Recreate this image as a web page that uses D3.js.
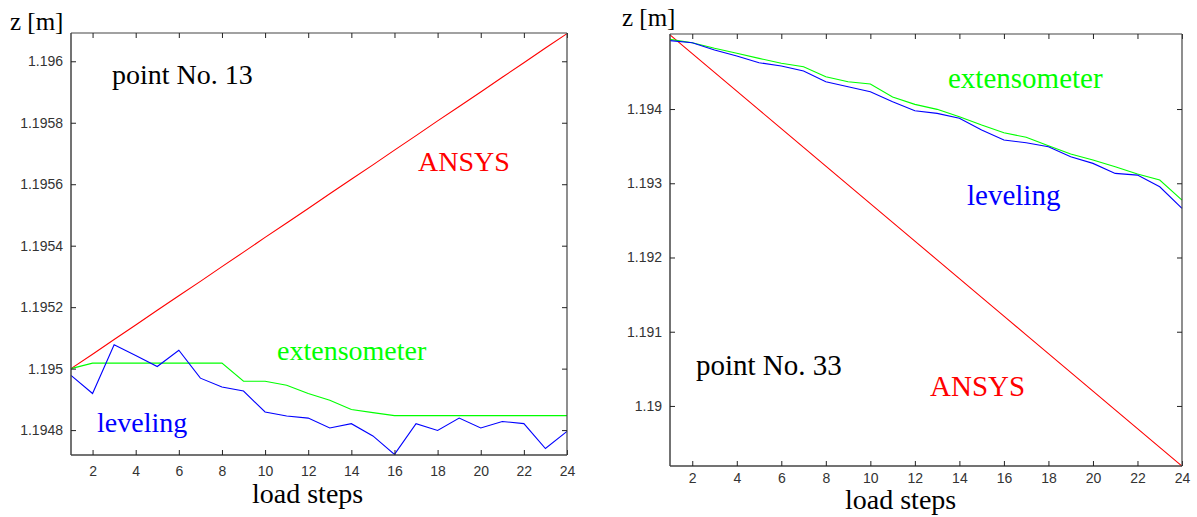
<!DOCTYPE html>
<html>
<head>
<meta charset="utf-8">
<script src="https://cdn.jsdelivr.net/npm/d3@7"></script>
<style>
  html, body { margin: 0; padding: 0; background: #fff; }
  svg { display: block; }
  .tick text { font-family: "Liberation Sans", Arial, sans-serif; font-size: 14px; fill: #333; }
  .lbl { font-family: "Liberation Serif", "Times New Roman", serif; }
</style>
</head>
<body>
<svg id="chart" width="1197" height="517"></svg>
<script>
// ---------- data ----------
const loadSteps = [1,2,3,4,5,6,7,8,9,10,11,12,13,14,15,16,17,18,19,20,21,22,23,24];
const xTickValues = [2,4,6,8,10,12,14,16,18,20,22,24];

// point No. 13
const p13Ansys = [1.195000,1.195047,1.195095,1.195142,1.195190,1.195237,1.195284,1.195332,1.195379,1.195427,1.195474,1.195521,
                  1.195569,1.195616,1.195663,1.195711,1.195758,1.195806,1.195853,1.195900,1.195948,1.195995,1.196043,1.196090];
const p13Extensometer = [1.195000,1.195018,1.195018,1.195018,1.195018,1.195018,1.195018,1.195018,1.194959,1.194959,1.194946,1.194919,
                         1.194897,1.194867,1.194857,1.194847,1.194847,1.194847,1.194847,1.194847,1.194847,1.194847,1.194847,1.194847];
const p13Leveling = [1.194978,1.194919,1.195078,1.195043,1.195007,1.195060,1.194969,1.194940,1.194927,1.194859,1.194846,1.194839,
                     1.194807,1.194821,1.194781,1.194721,1.194821,1.194799,1.194839,1.194807,1.194828,1.194821,1.194740,1.194796];
const p13YTicks = [1.1948,1.195,1.1952,1.1954,1.1956,1.1958,1.196];
const p13YTickLabels = ["1.1948","1.195","1.1952","1.1954","1.1956","1.1958","1.196"];
const p13YDomain = [1.194719, 1.196092];

// point No. 33
const p33Ansys = [1.195000,1.194747,1.194495,1.194242,1.193989,1.193737,1.193484,1.193231,1.192979,1.192726,1.192474,1.192221,
                  1.191968,1.191716,1.191463,1.191210,1.190958,1.190705,1.190452,1.190200,1.189947,1.189694,1.189442,1.189189];
const p33Extensometer = [1.194939,1.194894,1.194818,1.194751,1.194683,1.194616,1.194570,1.194435,1.194368,1.194337,1.194163,1.194063,
                         1.193996,1.193896,1.193784,1.193681,1.193619,1.193506,1.193394,1.193313,1.193222,1.193124,1.193043,1.192774];
const p33Leveling = [1.194922,1.194894,1.194795,1.194714,1.194624,1.194580,1.194512,1.194368,1.194301,1.194233,1.194098,1.193977,
                     1.193942,1.193875,1.193717,1.193582,1.193546,1.193492,1.193357,1.193268,1.193133,1.193110,1.192953,1.192662];
const p33YTicks = [1.19,1.191,1.192,1.193,1.194];
const p33YTickLabels = ["1.19","1.191","1.192","1.193","1.194"];
const p33YDomain = [1.189191, 1.195011];

const seriesNames = ["ANSYS","extensometer","leveling"];
const seriesColors = {ANSYS:"#ff0000", extensometer:"#00ff00", leveling:"#0000ff"};

// ---------- drawing ----------
const svg = d3.select("#chart");

function drawPanel(cfg) {
  const x = d3.scaleLinear().domain([1, 24]).range([cfg.left, cfg.right]);
  const y = d3.scaleLinear().domain(cfg.yDomain).range([cfg.bottom, cfg.top]);
  const g = svg.append("g");

  // lines
  const line = d3.line().x((d, i) => x(loadSteps[i])).y(d => y(d));
  cfg.series.forEach(s => {
    g.append("path").datum(s.values)
      .attr("fill", "none")
      .attr("stroke", seriesColors[s.name])
      .attr("stroke-width", 1.1)
      .attr("d", line);
  });

  const labelMap = new Map(cfg.yTicks.map((v, i) => [v, cfg.yTickLabels[i]]));
  // axes (ticks inward on all sides)
  const axB = g.append("g").attr("transform", `translate(0,${cfg.bottom})`)
    .call(d3.axisBottom(x).tickValues(xTickValues).tickSizeInner(-5).tickSizeOuter(0).tickPadding(cfg.xPad).tickFormat(d3.format("d")));
  const axT = g.append("g").attr("transform", `translate(0,${cfg.top})`)
    .call(d3.axisTop(x).tickValues(xTickValues).tickSizeInner(-5).tickSizeOuter(0).tickFormat(""));
  const axL = g.append("g").attr("transform", `translate(${cfg.left},0)`)
    .call(d3.axisLeft(y).tickValues(cfg.yTicks).tickSizeInner(-5).tickSizeOuter(0).tickPadding(8).tickFormat(v => labelMap.get(v)));
  const axR = g.append("g").attr("transform", `translate(${cfg.right},0)`)
    .call(d3.axisRight(y).tickValues(cfg.yTicks).tickSizeInner(-5).tickSizeOuter(0).tickFormat(""));
  [axB, axT, axL, axR].forEach(a => {
    a.select(".domain").attr("stroke", "#444").attr("stroke-width", 1.5);
    a.selectAll(".tick line").attr("stroke", "#222").attr("stroke-width", 1);
  });
  axB.selectAll(".tick text").attr("dy", "0.9em");
  axB.select(".domain").attr("d", `M${cfg.left},0H${cfg.right}`);
  axT.select(".domain").attr("d", `M${cfg.left},0H${cfg.right}`).attr("stroke-width", 1.2);
  axR.select(".domain").attr("d", `M0,${cfg.top}V${cfg.bottom}`).attr("stroke-width", 1.2);
  axL.select(".domain").attr("d", `M0,${cfg.top}V${cfg.bottom}`);

  // texts
  cfg.texts.forEach(t => {
    g.append("text").attr("class", "lbl")
      .attr("x", t.x).attr("y", t.y)
      .attr("font-size", t.size)
      .attr("fill", t.color || "#000")
      .text(t.text);
  });
}

drawPanel({
  left: 71, right: 567, top: 33, bottom: 455, xPad: 8,
  yDomain: p13YDomain, yTicks: p13YTicks, yTickLabels: p13YTickLabels,
  series: [
    {name: "ANSYS", values: p13Ansys},
    {name: "extensometer", values: p13Extensometer},
    {name: "leveling", values: p13Leveling}
  ],
  texts: [
    {text: "z [m]", x: 10, y: 30, size: 25},
    {text: "point No. 13", x: 112, y: 84, size: 28},
    {text: "ANSYS", x: 418, y: 171, size: 28, color: seriesColors.ANSYS},
    {text: "extensometer", x: 277, y: 360, size: 28, color: seriesColors.extensometer},
    {text: "leveling", x: 97, y: 432, size: 28, color: seriesColors.leveling},
    {text: "load steps", x: 252, y: 503, size: 28}
  ]
});

drawPanel({
  left: 670, right: 1182, top: 34, bottom: 466, xPad: 4,
  yDomain: p33YDomain, yTicks: p33YTicks, yTickLabels: p33YTickLabels,
  series: [
    {name: "ANSYS", values: p33Ansys},
    {name: "extensometer", values: p33Extensometer},
    {name: "leveling", values: p33Leveling}
  ],
  texts: [
    {text: "z [m]", x: 622, y: 26, size: 25},
    {text: "point No. 33", x: 696, y: 375, size: 29},
    {text: "ANSYS", x: 930, y: 396, size: 29, color: seriesColors.ANSYS},
    {text: "extensometer", x: 948, y: 88, size: 29, color: seriesColors.extensometer},
    {text: "leveling", x: 967, y: 205, size: 29, color: seriesColors.leveling},
    {text: "load steps", x: 845, y: 509, size: 28}
  ]
});
</script>
</body>
</html>
